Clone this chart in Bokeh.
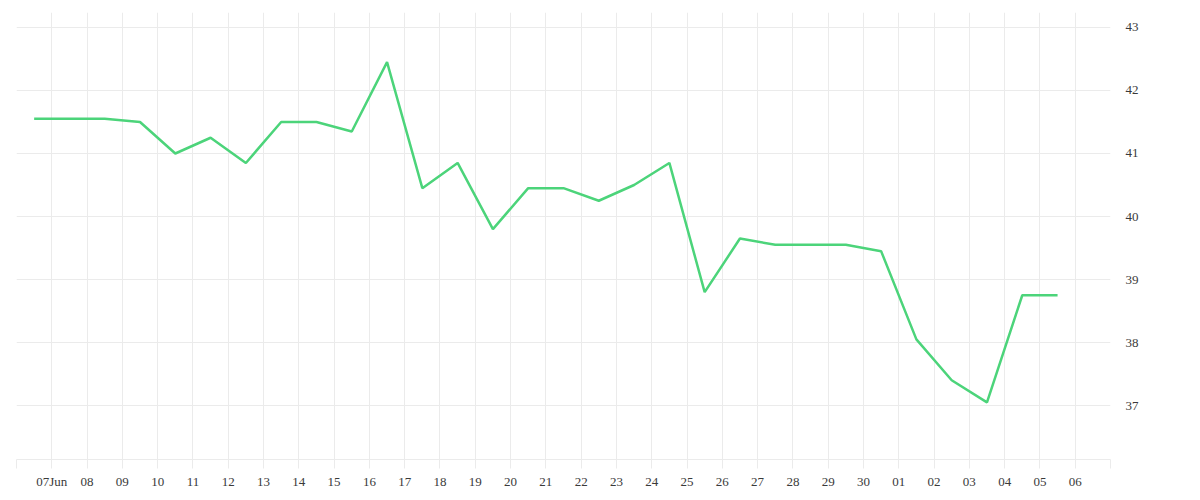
import pandas as pd
from bokeh.plotting import figure
from bokeh.models import Range1d, FixedTicker, CustomJSTickFormatter
from bokeh.embed import file_html
from bokeh.resources import INLINE

# ---- data ----
dates = pd.date_range("2024-06-06", "2024-07-05", freq="D")
values = [41.55, 41.55, 41.55, 41.5, 41.0, 41.25, 40.85, 41.5, 41.5, 41.35,
          42.45, 40.45, 40.85, 39.8, 40.45, 40.45, 40.25, 40.5, 40.85, 38.8,
          39.65, 39.55, 39.55, 39.55, 39.45, 38.05, 37.4, 37.05, 38.75, 38.75]
tick_days = pd.date_range("2024-06-06", "2024-07-07", freq="D")
tick_labels = ([""] + ["07Jun"] +
               ["08", "09", "10", "11", "12", "13", "14", "15", "16", "17", "18",
                "19", "20", "21", "22", "23", "24", "25", "26", "27", "28", "29",
                "30", "01", "02", "03", "04", "05", "06"] + [""])
y_ticks = [37, 38, 39, 40, 41, 42, 43]

# points sit in the middle of each day cell
x_vals = dates + pd.Timedelta(hours=12)

FONT = "Liberation Serif"
GRID = "#ebebeb"

p = figure(frame_width=1094, frame_height=447, output_backend="svg",
           toolbar_location=None, x_axis_type="datetime", y_axis_location="right",
           min_border_left=16, min_border_top=12, min_border_right=70,
           min_border_bottom=30)
p.x_range = Range1d(tick_days[0], tick_days[-1])
p.y_range = Range1d(36.143, 43.238)
p.outline_line_color = None
p.background_fill_color = "white"
p.border_fill_color = "white"

p.line(x_vals, values, line_color="#4cd47a", line_width=2.5)

xt = [int(t.value // 10**6) for t in tick_days]
p.xaxis.ticker = FixedTicker(ticks=xt)
p.xaxis.formatter = CustomJSTickFormatter(args=dict(labels=tick_labels),
                                          code="return labels[index];")
p.xaxis.axis_line_color = GRID
p.xaxis.major_tick_line_color = GRID
p.xaxis.major_tick_out = 9
p.xaxis.major_tick_in = 0
p.xaxis.minor_tick_line_color = None
p.xaxis.major_label_standoff = 5
p.xaxis.major_label_text_font = FONT
p.xaxis.major_label_text_font_size = "13px"
p.xaxis.major_label_text_color = "#3a3a3a"

p.yaxis.ticker = FixedTicker(ticks=y_ticks)
p.yaxis.axis_line_color = None
p.yaxis.major_tick_line_color = None
p.yaxis.minor_tick_line_color = None
p.yaxis.major_tick_out = 0
p.yaxis.major_label_standoff = 15
p.yaxis.major_label_text_font = FONT
p.yaxis.major_label_text_font_size = "13px"
p.yaxis.major_label_text_color = "#3a3a3a"

p.xgrid.grid_line_color = GRID
p.ygrid.grid_line_color = GRID
p.xgrid.ticker = FixedTicker(ticks=xt)
p.ygrid.ticker = FixedTicker(ticks=y_ticks)

open("out.html", "w").write(file_html(p, INLINE))
